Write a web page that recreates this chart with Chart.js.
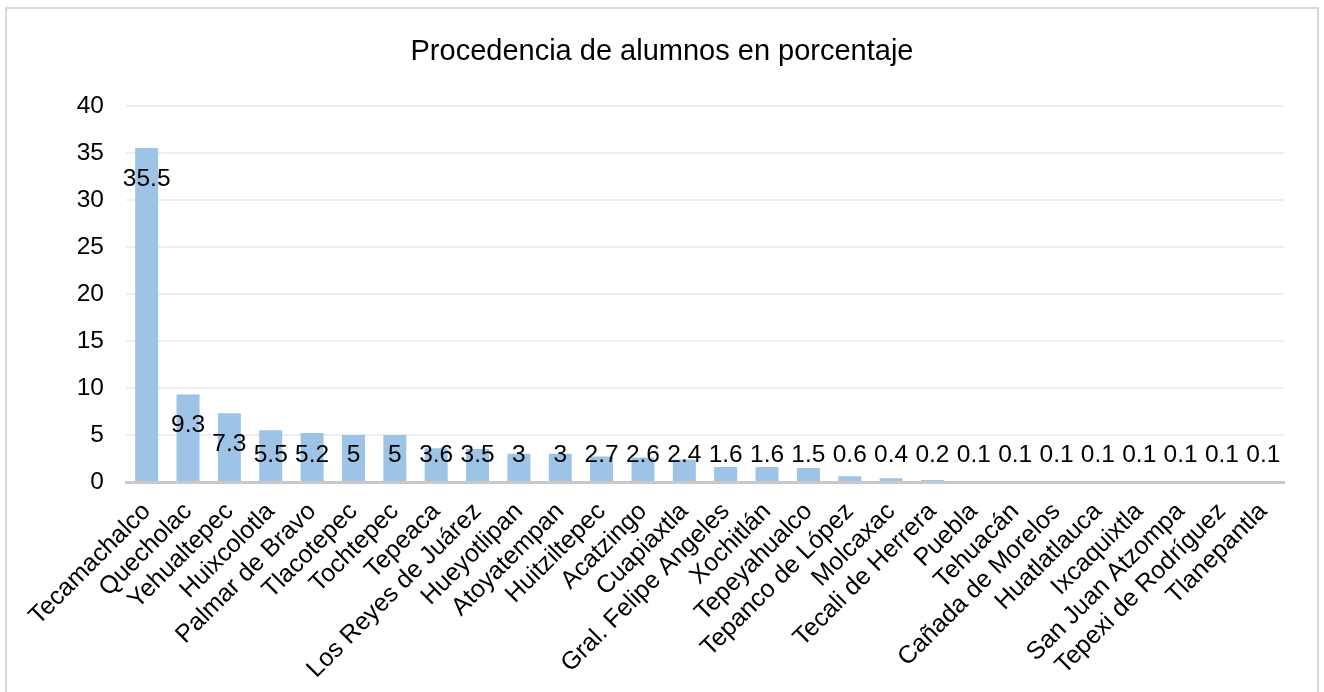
<!DOCTYPE html>
<html>
<head>
<meta charset="utf-8">
<script src="https://cdn.jsdelivr.net/npm/chart.js@4/dist/chart.umd.min.js"></script>
<style>
  html, body { margin: 0; padding: 0; background: #fff; overflow: hidden; }
  #frame {
    position: absolute; left: 5px; top: 7px; width: 1314px; height: 720px;
    box-sizing: border-box; border: 2px solid #d9d9d9; pointer-events: none;
  }
  #myChart { position: absolute; left: 0; top: 0; }
</style>
</head>
<body>
<canvas id="myChart" width="1324" height="692"></canvas>
<div id="frame"></div>
<script>
const chartTitle = "Procedencia de alumnos en porcentaje";

const municipios = [
  "Tecamachalco", "Quecholac", "Yehualtepec", "Huixcolotla", "Palmar de Bravo",
  "Tlacotepec", "Tochtepec", "Tepeaca", "Los Reyes de Juárez", "Hueyotlipan",
  "Atoyatempan", "Huitziltepec", "Acatzingo", "Cuapiaxtla", "Gral. Felipe Angeles",
  "Xochitlán", "Tepeyahualco", "Tepanco de López", "Molcaxac", "Tecali de Herrera",
  "Puebla", "Tehuacán", "Cañada de Morelos", "Huatlatlauca", "Ixcaquixtla",
  "San Juan Atzompa", "Tepexi de Rodríguez", "Tlanepantla"
];

const porcentajes = [
  35.5, 9.3, 7.3, 5.5, 5.2,
  5, 5, 3.6, 3.5, 3,
  3, 2.7, 2.6, 2.4, 1.6,
  1.6, 1.5, 0.6, 0.4, 0.2,
  0.1, 0.1, 0.1, 0.1, 0.1,
  0.1, 0.1, 0.1
];

const yMin = 0;
const yMax = 40;
const yStep = 5;

const fontFamily = "'Liberation Sans', Arial, sans-serif";

// etiquetas de valor: dentro del extremo de la barra, o encima si la barra es corta
const valueLabels = {
  id: "valueLabels",
  afterDatasetsDraw(chart) {
    const ctx = chart.ctx;
    const meta = chart.getDatasetMeta(0);
    const zeroY = chart.scales.y.getPixelForValue(0);
    ctx.save();
    ctx.font = "24.5px " + fontFamily;
    ctx.fillStyle = "#000";
    ctx.textAlign = "center";
    ctx.textBaseline = "middle";
    meta.data.forEach((bar, i) => {
      const y = Math.min(bar.y + 31, zeroY - 27);
      ctx.fillText(String(porcentajes[i]), bar.x, y);
    });
    ctx.restore();
  }
};

const config = {
  type: "bar",
  data: {
    labels: municipios,
    datasets: [
      {
        label: chartTitle,
        data: porcentajes,
        backgroundColor: "#9dc3e6",
        borderWidth: 0,
        categoryPercentage: 1,
        barPercentage: 0.556,
      },
    ],
  },
  options: {
    responsive: false,
    animation: false,
    devicePixelRatio: 1,
    layout: { padding: { left: 40, right: 40, top: 0, bottom: 0 } },
    plugins: {
      legend: { display: false },
      tooltip: { enabled: false },
      title: {
        display: true,
        text: chartTitle,
        color: "#000",
        font: { family: fontFamily, size: 29, weight: "normal" },
        padding: { top: 35, bottom: 36 },
      },
    },
    scales: {
      x: {
        grid: { display: false, drawTicks: false },
        border: { display: true, color: "#c9c9c9", width: 3 },
        ticks: {
          autoSkip: false,
          minRotation: 45,
          maxRotation: 45,
          padding: 15,
          color: "#000",
          font: { family: fontFamily, size: 25 },
        },
        afterFit(scale) {
          scale.height = 210;
        },
      },
      y: {
        min: yMin,
        max: yMax,
        grid: { color: "#eeeeee", lineWidth: 2, drawTicks: false },
        border: { display: false },
        ticks: {
          stepSize: yStep,
          padding: 22,
          color: "#000",
          font: { family: fontFamily, size: 24.5 },
        },
        afterFit(scale) {
          scale.width = 86;
        },
      },
    },
  },
  plugins: [valueLabels],
};

new Chart(document.getElementById("myChart"), config);
</script>
</body>
</html>
